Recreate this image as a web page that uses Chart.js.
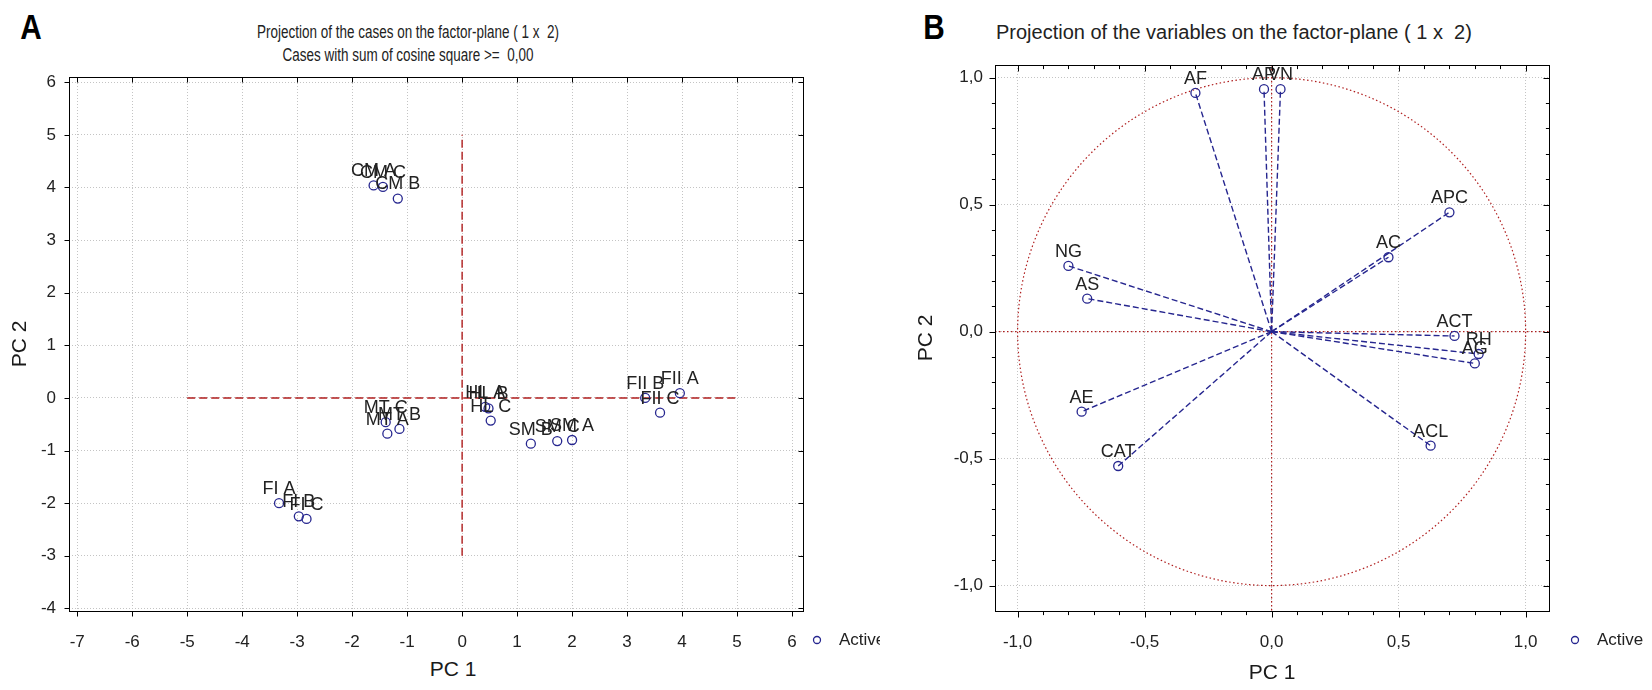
<!DOCTYPE html>
<html>
<head>
<meta charset="utf-8">
<script src="https://cdn.jsdelivr.net/npm/chart.js@4.4.1/dist/chart.umd.min.js"></script>
<style>
  body { margin: 0; background: #fff; width: 1652px; height: 690px; overflow: hidden; position: relative;
         font-family: "Liberation Sans", Arial, sans-serif; color: #222; }
  .panel { position: absolute; top: 0; height: 690px; }
  .letter { position: absolute; font-weight: bold; font-size: 35px; color: #000; transform: translate(-50%, -50%) scaleX(0.85); }
  .title { position: absolute; white-space: pre; }
  .title.a { font-size: 17.5px; transform: translate(-50%, -50%) scaleX(0.77); }
  .title.b { font-size: 20px; transform: translateY(-50%); }
  .axis-title { position: absolute; font-size: 21px; color: #1a1a1a; transform: translate(-50%, -50%); }
</style>
</head>
<body>
<div class="letter" style="left:31px; top:27px">A</div>
<div class="title a" style="left:408px; top:32px">Projection of the cases on the factor-plane ( 1 x  2)</div>
<div class="title a" style="left:408px; top:55px">Cases with sum of cosine square &gt;=  0,00</div>
<div class="axis-title" style="left:453px; top:669px">PC 1</div>
<div class="letter" style="left:934px; top:27px">B</div>
<div class="title b" style="left:996px; top:32px">Projection of the variables on the factor-plane ( 1 x  2)</div>

<div class="panel" style="left:0; width:880px"><canvas id="cases"></canvas></div>
<div class="panel" style="left:880px; width:772px"><canvas id="variables"></canvas></div>

<script>
// PCA scores of the cases (factor 1 x factor 2)
const caseNames = ['CM A', 'CM C', 'CM B', 'MT C', 'MT A', 'MT B', 'HL A', 'HL B', 'HL C',
                   'SM B', 'SM C', 'SM A', 'FII B', 'FII C', 'FII A', 'FI A', 'FI B', 'FI C'];
const caseX = [-1.61, -1.44, -1.17, -1.39, -1.36, -1.14, 0.42, 0.48, 0.52,
               1.25, 1.73, 2.00, 3.33, 3.60, 3.96, -3.33, -2.97, -2.83];
const caseY = [4.04, 4.01, 3.79, -0.46, -0.68, -0.59, -0.17, -0.20, -0.43,
               -0.87, -0.82, -0.80, 0.00, -0.28, 0.09, -2.00, -2.25, -2.30];
const xTicksA = [-7, -6, -5, -4, -3, -2, -1, 0, 1, 2, 3, 4, 5, 6];
const yTicksA = [-4, -3, -2, -1, 0, 1, 2, 3, 4, 5, 6];
const hLineA = [-5, 5];   // y = 0 reference, x extent
const vLineA = [-3, 5];   // x = 0 reference, y extent

// variable loadings (correlations with factors 1 and 2)
const varNames = ['AF', 'AP', 'VN', 'APC', 'AC', 'ACT', 'RH', 'AG', 'NG', 'AS', 'AE', 'CAT', 'ACL'];
const varX = [-0.30, -0.03, 0.035, 0.70, 0.46, 0.72, 0.815, 0.80, -0.80, -0.726, -0.748, -0.604, 0.626];
const varY = [0.94, 0.955, 0.955, 0.47, 0.293, -0.017, -0.088, -0.125, 0.259, 0.13, -0.315, -0.529, -0.449];
const ticksB = [-1, -0.5, 0, 0.5, 1];
const minorB = [-1, -0.9, -0.8, -0.7, -0.6, -0.5, -0.4, -0.3, -0.2, -0.1, 0,
                0.1, 0.2, 0.3, 0.4, 0.5, 0.6, 0.7, 0.8, 0.9, 1];

const FONT = '"Liberation Sans", Arial, sans-serif';
const BLUE = '#26268f';
const RED = '#b01e1e';

// black box round the plot with short tick marks on all four sides
const framePlugin = {
  id: 'frame',
  afterDraw(chart, args, opts) {
    const {ctx, chartArea: a, scales: {x, y}} = chart;
    const L = Math.round(a.left) + 0.5, R = Math.round(a.right) + 0.5;
    const T = Math.round(a.top) + 0.5, B = Math.round(a.bottom) + 0.5;
    ctx.save();
    ctx.strokeStyle = '#000';
    ctx.lineWidth = 1;
    ctx.strokeRect(L, T, R - L, B - T);
    ctx.beginPath();
    opts.x.forEach(v => {
      const px = Math.round(x.getPixelForValue(v)) + 0.5;
      const len = opts.major.x.includes(v) ? opts.len : opts.len * 0.6;
      ctx.moveTo(px, B); ctx.lineTo(px, B + len);
      ctx.moveTo(px, T); ctx.lineTo(px, T + len);
    });
    opts.y.forEach(v => {
      const py = Math.round(y.getPixelForValue(v)) + 0.5;
      const len = opts.major.y.includes(v) ? opts.len : opts.len * 0.6;
      ctx.moveTo(L, py); ctx.lineTo(L - len, py);
      ctx.moveTo(R, py); ctx.lineTo(R - len, py);
    });
    ctx.stroke();
    ctx.restore();
  }
};

const pointLabels = {
  id: 'pointLabels',
  afterDatasetsDraw(chart) {
    const {ctx} = chart;
    chart.data.datasets.forEach((ds, i) => {
      if (!ds.names) return;
      ctx.save();
      ctx.font = '18px ' + FONT;
      ctx.fillStyle = '#222';
      ctx.textAlign = 'center';
      ctx.textBaseline = 'bottom';
      chart.getDatasetMeta(i).data.forEach((pt, j) => ctx.fillText(ds.names[j], pt.x, pt.y - 5));
      ctx.restore();
    });
  }
};

// small "o Active" key below the right end of the plot
const activeLegend = {
  id: 'activeLegend',
  afterDraw(chart, args, opts) {
    const ds = chart.data.datasets.find(d => d.label === 'Active');
    const {ctx, chartArea: a} = chart;
    const x = a.right + opts.dx, y = a.bottom + opts.dy;
    ctx.save();
    ctx.strokeStyle = ds.borderColor;
    ctx.lineWidth = 1.3;
    ctx.beginPath();
    ctx.arc(x, y, 3.5, 0, Math.PI * 2);
    ctx.stroke();
    ctx.font = '17px ' + FONT;
    ctx.fillStyle = '#222';
    ctx.textBaseline = 'middle';
    ctx.fillText(ds.label, x + 22, y);
    ctx.restore();
  }
};

// unit circle and dotted axes through the origin
const circlePlugin = {
  id: 'unitCircle',
  beforeDatasetsDraw(chart) {
    const {ctx, chartArea: a, scales: {x, y}} = chart;
    const cx = x.getPixelForValue(0), cy = y.getPixelForValue(0);
    ctx.save();
    ctx.strokeStyle = RED;
    ctx.lineWidth = 1.2;
    ctx.setLineDash([1.5, 2.5]);
    ctx.beginPath();
    ctx.moveTo(cx, a.top); ctx.lineTo(cx, a.bottom);
    ctx.moveTo(a.left, cy); ctx.lineTo(a.right, cy);
    ctx.stroke();
    ctx.beginPath();
    ctx.ellipse(cx, cy, x.getPixelForValue(1) - cx, cy - y.getPixelForValue(1), 0, 0, Math.PI * 2);
    ctx.stroke();
    ctx.restore();
  }
};

function axis(opts) {
  return {
    type: 'linear',
    min: opts.min,
    max: opts.max,
    afterBuildTicks: s => { s.ticks = opts.ticks.map(v => ({value: v})); },
    afterFit: opts.fit,
    grid: {color: '#c4c4c4', lineWidth: 1, drawTicks: false},
    border: {display: false, dash: [1, 2]},
    ticks: {
      padding: opts.pad,
      color: '#222',
      font: {family: FONT, size: 17},
      callback: opts.fmt || (v => String(v))
    },
    title: {display: !!opts.title, text: opts.title, color: '#1a1a1a', font: {family: FONT, size: 21}, padding: opts.titlePad}
  };
}

new Chart(document.getElementById('cases'), {
  type: 'scatter',
  data: {
    datasets: [
      {
        label: 'Active',
        names: caseNames,
        data: caseX.map((v, i) => ({x: v, y: caseY[i]})),
        borderColor: BLUE,
        backgroundColor: 'rgba(0,0,0,0)',
        borderWidth: 1.3,
        pointRadius: 4.5
      },
      {
        type: 'line',
        label: 'hline',
        data: hLineA.map(v => ({x: v, y: 0})),
        borderColor: RED, borderWidth: 1.4, borderDash: [8, 4], pointRadius: 0
      },
      {
        type: 'line',
        label: 'vline',
        data: vLineA.map(v => ({x: 0, y: v})),
        borderColor: RED, borderWidth: 1.4, borderDash: [8, 4], pointRadius: 0
      }
    ]
  },
  options: {
    responsive: true,
    maintainAspectRatio: false,
    animation: false,
    layout: {padding: {top: 77, right: 77, bottom: 0, left: 0}},
    plugins: {
      legend: {display: false}, tooltip: {enabled: false},
      activeLegend: {dx: 14, dy: 29},
      frame: {x: xTicksA, y: yTicksA, major: {x: xTicksA, y: yTicksA}, len: 5}
    },
    scales: {
      x: axis({min: -7.15, max: 6.2, ticks: xTicksA, pad: 21, fit: s => { s.height = 79; }}),
      y: axis({min: -4.05, max: 6.1, ticks: yTicksA, pad: 13, title: 'PC 2', titlePad: {top: 8},
               fit: s => { s.width = 69; }})
    }
  },
  plugins: [framePlugin, pointLabels, activeLegend]
});

const fmtB = v => v.toFixed(1).replace('.', ',');

new Chart(document.getElementById('variables'), {
  type: 'scatter',
  data: {
    datasets: [
      {
        label: 'Active',
        names: varNames,
        data: varX.map((v, i) => ({x: v, y: varY[i]})),
        borderColor: BLUE,
        backgroundColor: 'rgba(0,0,0,0)',
        borderWidth: 1.3,
        pointRadius: 4.5
      },
      ...varX.map((v, i) => ({
        type: 'line',
        label: 'vector ' + varNames[i],
        data: [{x: 0, y: 0}, {x: v, y: varY[i]}],
        borderColor: BLUE, borderWidth: 1.4, borderDash: [6, 3], pointRadius: 0
      }))
    ]
  },
  options: {
    responsive: true,
    maintainAspectRatio: false,
    animation: false,
    layout: {padding: {top: 65, right: 103, bottom: 0, left: 0}},
    plugins: {
      legend: {display: false}, tooltip: {enabled: false},
      activeLegend: {dx: 26, dy: 29},
      frame: {x: minorB, y: minorB, major: {x: ticksB, y: ticksB}, len: 6}
    },
    scales: {
      x: axis({min: -1.089, max: 1.092, ticks: ticksB, pad: 21, title: 'PC 1', titlePad: {bottom: 4},
               fmt: fmtB, fit: s => { s.height = 79; }}),
      y: axis({min: -1.10, max: 1.05, ticks: ticksB, pad: 12, title: 'PC 2', titlePad: {top: 34},
               fmt: fmtB, fit: s => { s.width = 115; }})
    }
  },
  plugins: [framePlugin, circlePlugin, pointLabels, activeLegend]
});
</script>
</body>
</html>
